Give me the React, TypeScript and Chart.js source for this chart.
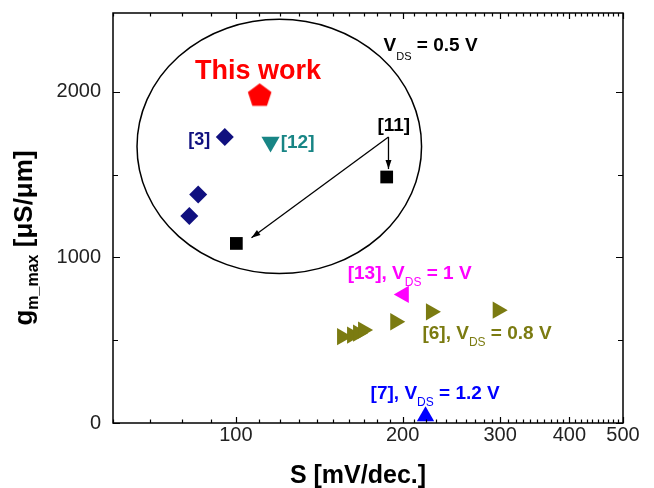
import React, { useEffect, useRef } from "react";
import { Chart, registerables } from "chart.js";

Chart.register(...registerables);

const FONT = "'Liberation Sans', Arial, sans-serif";

// ---- data (S in mV/dec, gm_max in uS/um) ----
const thisWorkS = [110.4];
const thisWorkGm = [1975];
const ref3S = [95.5, 85.5, 82.4];
const ref3Gm = [1727, 1380, 1250];
const ref12S = [115.5];
const ref12Gm = [1697];
const ref11S = [187.2, 100.2];
const ref11Gm = [1485, 1084];
const ref13S = [201];
const ref13Gm = [776];
const ref6S = [155.5, 162.1, 166.2, 169.7, 194, 225, 297];
const ref6Gm = [521, 531, 542, 561, 611, 671, 681];
const ref7S = [220];
const ref7Gm = [41];

// ---- axis ticks ----
const xMajorTicks = [100, 200, 300, 400, 500];
const xAllTicks = [
  60, 70, 80, 90, 100, 110, 120, 130, 140, 150, 160, 170, 180, 190, 200,
  210, 220, 230, 240, 250, 260, 270, 280, 290, 300, 310, 320, 330, 340, 350,
  360, 370, 380, 390, 400, 410, 420, 430, 440, 450, 460, 470, 480, 490, 500,
];
const yMajorTicks = [0, 1000, 2000];
const yAllTicks = [0, 500, 1000, 1500, 2000];

// ---- annotations (in data coordinates) ----
const ellipseS = [66.3, 216.4];
const ellipseGm = [902, 2437];
const arrowFromS = 188.6;
const arrowFromGm = 1727;
const arrowToS = [188.6, 106.7];
const arrowToGm = [1533, 1118];

const RED = "#ff0000";
const NAVY = "#10107f";
const TEAL = "#188585";
const MAGENTA = "#ff00ff";
const OLIVE = "#7b7b11";
const BLUE = "#0000ff";

type Part = { t: string; sub?: boolean };
const textLabels: { s: number; gm: number; color: string; size: number; sub: number; dy: number; parts: Part[] }[] = [
  { s: 84.4, gm: 2077, color: RED, size: 27, sub: 12, dy: 7, parts: [{ t: "This work" }] },
  { s: 184.8, gm: 2245, color: "#000", size: 19, sub: 11, dy: 9, parts: [{ t: "V" }, { t: "DS", sub: true }, { t: " = 0.5 V" }] },
  { s: 82.0, gm: 1679, color: NAVY, size: 18, sub: 12, dy: 7, parts: [{ t: "[3]" }] },
  { s: 120.5, gm: 1661, color: TEAL, size: 19, sub: 12, dy: 7, parts: [{ t: "[12]" }] },
  { s: 180.1, gm: 1764, color: "#000", size: 19, sub: 12, dy: 7, parts: [{ t: "[11]" }] },
  { s: 159.2, gm: 868, color: MAGENTA, size: 19, sub: 12, dy: 7, parts: [{ t: "[13], V" }, { t: "DS", sub: true }, { t: " = 1 V" }] },
  { s: 217.2, gm: 507, color: OLIVE, size: 19, sub: 12, dy: 7, parts: [{ t: "[6], V" }, { t: "DS", sub: true }, { t: " = 0.8 V" }] },
  { s: 175.1, gm: 147, color: BLUE, size: 19, sub: 12, dy: 7, parts: [{ t: "[7], V" }, { t: "DS", sub: true }, { t: " = 1.2 V" }] },
];

function pts(xs: number[], ys: number[]) {
  return xs.map((x, i) => ({ x, y: ys[i] }));
}

function makePentagon(r: number, color: string) {
  const c = document.createElement("canvas");
  const s = Math.ceil(2 * r + 2);
  c.width = s;
  c.height = s;
  const g = c.getContext("2d")!;
  g.fillStyle = color;
  g.beginPath();
  for (let i = 0; i < 5; i++) {
    const a = -Math.PI / 2 + (i * 2 * Math.PI) / 5;
    const px = s / 2 + r * Math.cos(a);
    const py = s / 2 + r * Math.sin(a);
    if (i === 0) g.moveTo(px, py);
    else g.lineTo(px, py);
  }
  g.closePath();
  g.fill();
  return c;
}

function drawRich(ctx: CanvasRenderingContext2D, x: number, y: number, parts: Part[], size: number, subSize: number, dy: number, color: string) {
  let cx = x;
  ctx.fillStyle = color;
  ctx.textAlign = "left";
  ctx.textBaseline = "alphabetic";
  for (const p of parts) {
    ctx.font = p.sub ? `${subSize}px ${FONT}` : `bold ${size}px ${FONT}`;
    ctx.fillText(p.t, cx, y + (p.sub ? dy : 0));
    cx += ctx.measureText(p.t).width;
  }
  return cx - x;
}

const decorPlugin = {
  id: "decor",
  beforeDatasetsDraw(chart: any) {
    const { ctx, scales } = chart;
    const x = scales.x, y = scales.y;
    ctx.save();
    // ellipse
    const ex1 = x.getPixelForValue(ellipseS[0]);
    const ex2 = x.getPixelForValue(ellipseS[1]);
    const ey1 = y.getPixelForValue(ellipseGm[0]);
    const ey2 = y.getPixelForValue(ellipseGm[1]);
    ctx.beginPath();
    ctx.ellipse((ex1 + ex2) / 2, (ey1 + ey2) / 2, Math.abs(ex2 - ex1) / 2, Math.abs(ey2 - ey1) / 2, 0, 0, Math.PI * 2);
    ctx.lineWidth = 1.5;
    ctx.strokeStyle = "#000";
    ctx.stroke();
    // arrows
    const fx = x.getPixelForValue(arrowFromS);
    const fy = y.getPixelForValue(arrowFromGm);
    ctx.lineWidth = 1.3;
    ctx.fillStyle = "#000";
    arrowToS.forEach((s, i) => {
      const tx = x.getPixelForValue(s);
      const ty = y.getPixelForValue(arrowToGm[i]);
      ctx.beginPath();
      ctx.moveTo(fx, fy);
      ctx.lineTo(tx, ty);
      ctx.stroke();
      const ang = Math.atan2(ty - fy, tx - fx);
      const L = 9, W = 3;
      ctx.beginPath();
      ctx.moveTo(tx, ty);
      ctx.lineTo(tx - L * Math.cos(ang) + W * Math.sin(ang), ty - L * Math.sin(ang) - W * Math.cos(ang));
      ctx.lineTo(tx - L * Math.cos(ang) - W * Math.sin(ang), ty - L * Math.sin(ang) + W * Math.cos(ang));
      ctx.closePath();
      ctx.fill();
    });
    ctx.restore();
  },
  afterDatasetsDraw(chart: any) {
    const { ctx, chartArea: a, scales } = chart;
    const x = scales.x, y = scales.y;
    ctx.save();
    // frame
    ctx.strokeStyle = "#000";
    ctx.lineWidth = 1.5;
    ctx.strokeRect(a.left, a.top, a.right - a.left, a.bottom - a.top);
    // inward ticks
    ctx.lineWidth = 1.2;
    ctx.beginPath();
    xAllTicks.forEach((v) => {
      const px = Math.round(x.getPixelForValue(v)) + 0.5;
      const len = xMajorTicks.includes(v) ? 6 : 3.5;
      ctx.moveTo(px, a.bottom);
      ctx.lineTo(px, a.bottom - len);
      ctx.moveTo(px, a.top);
      ctx.lineTo(px, a.top + len);
    });
    yAllTicks.forEach((v) => {
      const py = Math.round(y.getPixelForValue(v)) + 0.5;
      const len = yMajorTicks.includes(v) ? 7 : 5;
      ctx.moveTo(a.left, py);
      ctx.lineTo(a.left + len, py);
      ctx.moveTo(a.right, py);
      ctx.lineTo(a.right - len, py);
    });
    ctx.stroke();
    // text annotations
    textLabels.forEach((l) => {
      drawRich(ctx, x.getPixelForValue(l.s), y.getPixelForValue(l.gm), l.parts, l.size, l.sub, l.dy, l.color);
    });
    // x title
    ctx.fillStyle = "#000";
    ctx.font = `bold 25px ${FONT}`;
    ctx.textAlign = "center";
    ctx.textBaseline = "alphabetic";
    ctx.fillText("S [mV/dec.]", (a.left + a.right) / 2 - 10, 483);
    // y title (rotated, with subscript)
    const parts: Part[] = [{ t: "g" }, { t: "m_max", sub: true }, { t: " [\u03bcS/\u03bcm]" }];
    let total = 0;
    parts.forEach((p) => {
      ctx.font = p.sub ? `bold 16px ${FONT}` : `bold 26px ${FONT}`;
      total += ctx.measureText(p.t).width;
    });
    ctx.translate(32, 238 + total / 2);
    ctx.rotate(-Math.PI / 2);
    ctx.textAlign = "left";
    let cx = 0;
    parts.forEach((p) => {
      ctx.font = p.sub ? `bold 16px ${FONT}` : `bold 26px ${FONT}`;
      ctx.fillText(p.t, cx, p.sub ? 6 : 0);
      cx += ctx.measureText(p.t).width;
    });
    ctx.restore();
  },
};

export default function App() {
  const ref = useRef<HTMLCanvasElement>(null);
  useEffect(() => {
    if (!ref.current) return;
    const pent = makePentagon(12.4, RED);
    const chart = new Chart(ref.current, {
      type: "scatter",
      data: {
        datasets: [
          { label: "This work", data: pts(thisWorkS, thisWorkGm), pointStyle: pent as any, pointRadius: 12, backgroundColor: RED, borderColor: RED },
          { label: "[3]", data: pts(ref3S, ref3Gm), pointStyle: "rectRot", pointRadius: 9, backgroundColor: NAVY, borderColor: NAVY, borderWidth: 0 },
          { label: "[12]", data: pts(ref12S, ref12Gm), pointStyle: "triangle", rotation: 180, pointRadius: 10.5, backgroundColor: TEAL, borderColor: TEAL, borderWidth: 0 },
          { label: "[11]", data: pts(ref11S, ref11Gm), pointStyle: "rect", pointRadius: 9, backgroundColor: "#000", borderColor: "#000", borderWidth: 0 },
          { label: "[13]", data: pts(ref13S, ref13Gm), pointStyle: "triangle", rotation: -90, pointRadius: 10, backgroundColor: MAGENTA, borderColor: MAGENTA, borderWidth: 0 },
          { label: "[6]", data: pts(ref6S, ref6Gm), pointStyle: "triangle", rotation: 90, pointRadius: 10, backgroundColor: OLIVE, borderColor: OLIVE, borderWidth: 0 },
          { label: "[7]", data: pts(ref7S, ref7Gm), pointStyle: "triangle", rotation: 0, pointRadius: 10, backgroundColor: BLUE, borderColor: BLUE, borderWidth: 0 },
        ],
      },
      options: {
        animation: false,
        responsive: false,
        layout: { padding: { top: 12, right: 31, left: 0, bottom: 0 } },
        plugins: { legend: { display: false }, tooltip: { enabled: false } },
        scales: {
          x: {
            type: "logarithmic",
            min: 60,
            max: 500,
            grid: { display: false, drawTicks: false },
            border: { display: false },
            ticks: {
              autoSkip: false,
              maxRotation: 0,
              padding: 0,
              color: "#222",
              font: { size: 20, family: FONT },
              callback: (v: any) => (xMajorTicks.includes(Number(v)) ? String(v) : ""),
            },
            afterBuildTicks: (s: any) => {
              s.ticks = xAllTicks.map((v) => ({ value: v }));
            },
            afterFit: (s: any) => {
              s.height = 65;
              s.paddingLeft = 0;
              s.paddingRight = 0;
            },
          },
          y: {
            type: "linear",
            min: 0,
            max: 2475,
            grid: { display: false, drawTicks: false },
            border: { display: false },
            ticks: {
              autoSkip: false,
              padding: 12,
              color: "#222",
              font: { size: 20, family: FONT },
              callback: (v: any) => (yMajorTicks.includes(Number(v)) ? String(v) : ""),
            },
            afterBuildTicks: (s: any) => {
              s.ticks = yAllTicks.map((v) => ({ value: v }));
            },
            afterFit: (s: any) => {
              s.width = 113;
              s.paddingTop = 0;
              s.paddingBottom = 0;
            },
          },
        },
      },
      plugins: [decorPlugin],
    } as any);
    return () => chart.destroy();
  }, []);
  return (
    <div style={{ position: "absolute", left: 0, top: 0, width: 654, height: 488, background: "#fff" }}>
      <canvas ref={ref} width={654} height={488} style={{ display: "block" }} />
    </div>
  );
}
